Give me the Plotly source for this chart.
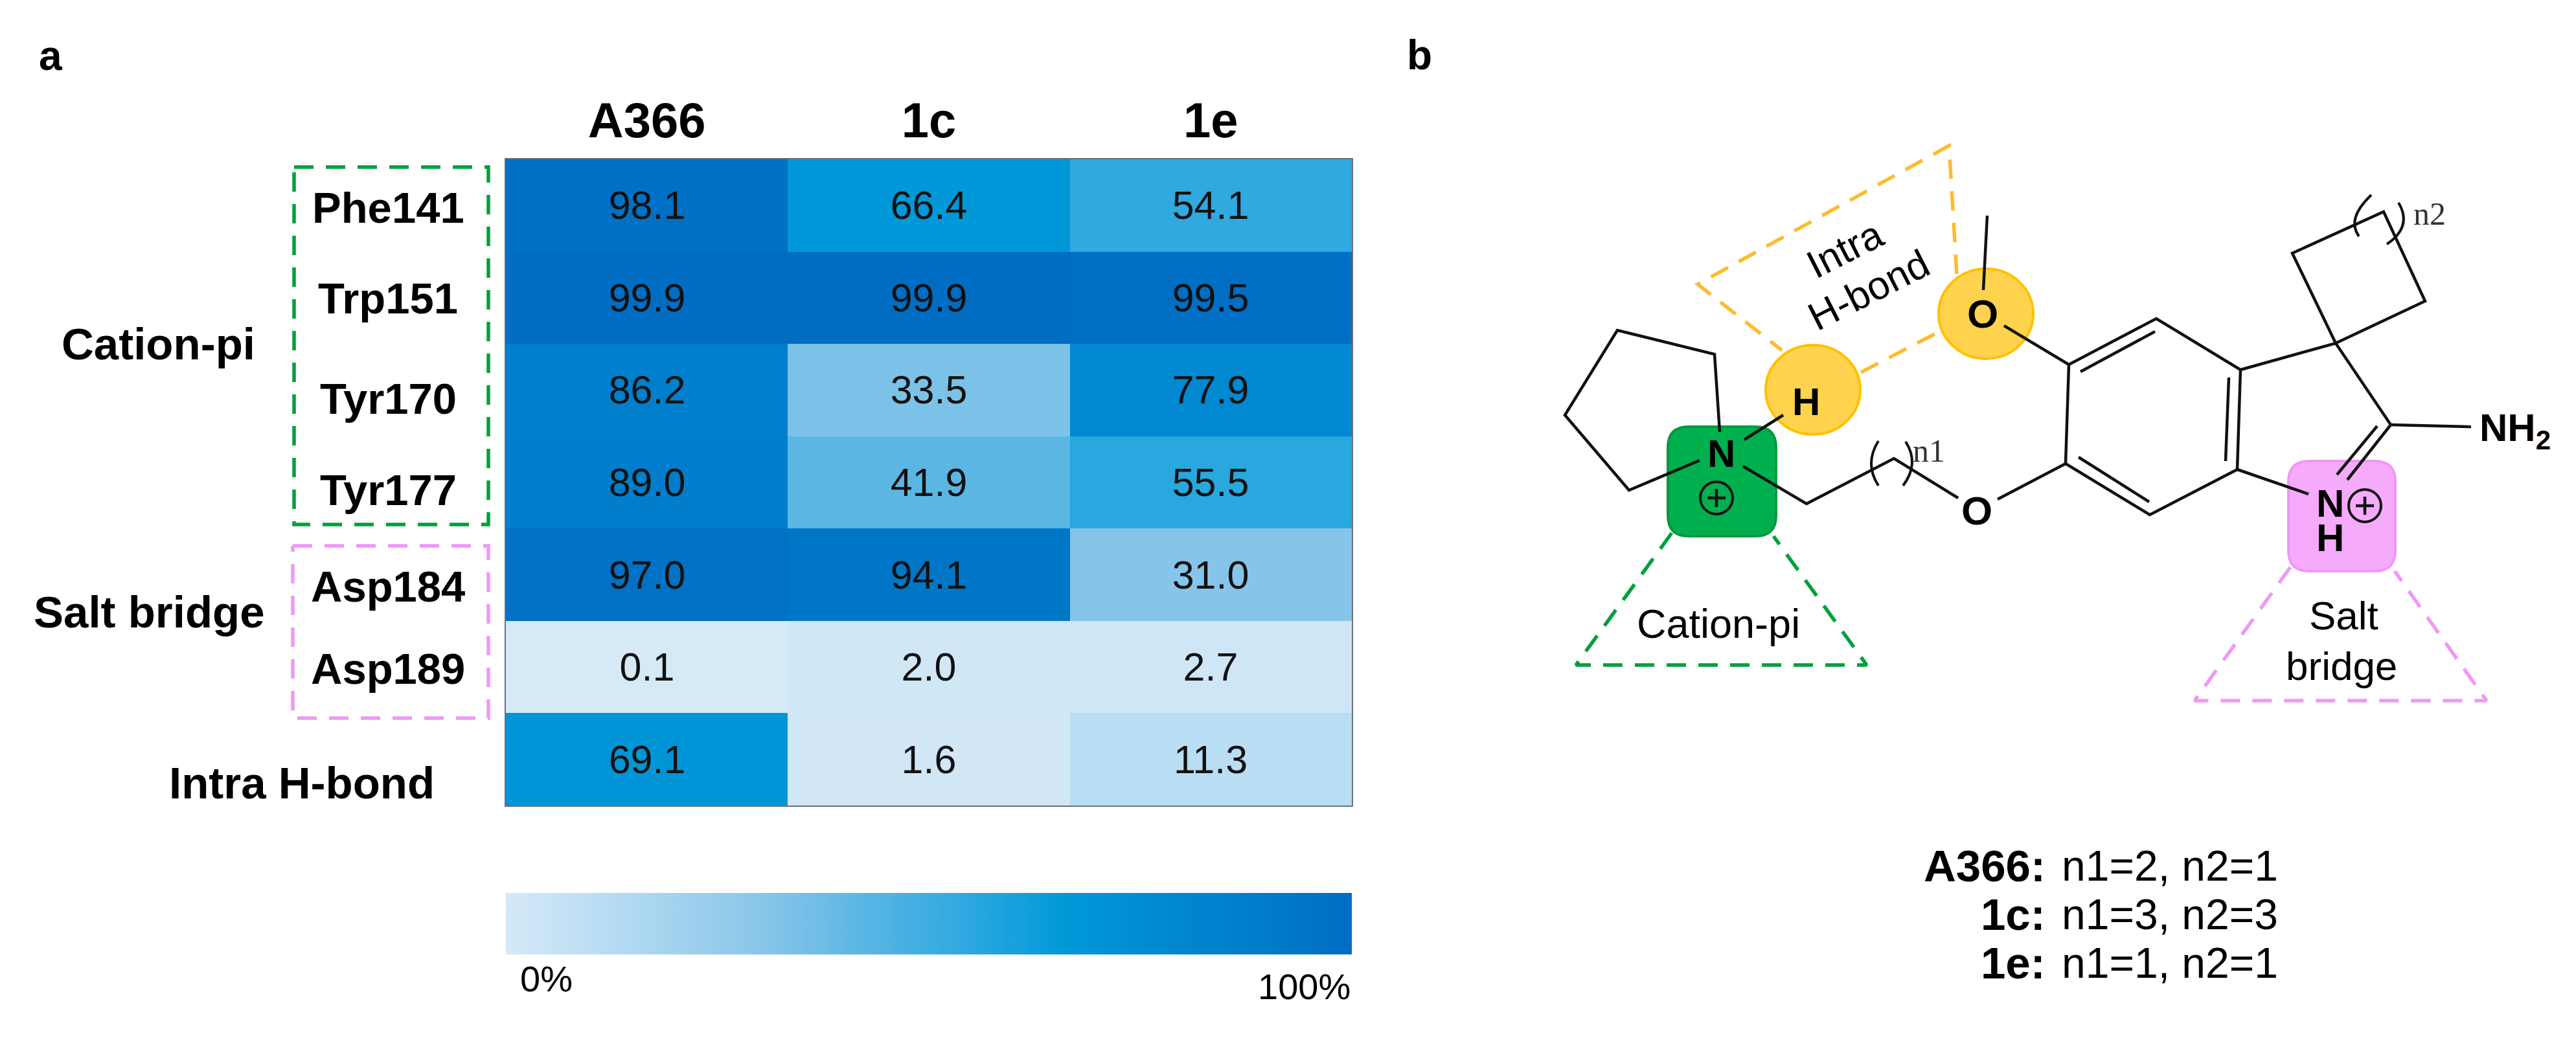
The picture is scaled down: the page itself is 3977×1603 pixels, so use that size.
import plotly.graph_objects as go

# ---------- panel a data ----------
compounds = ["A366", "1c", "1e"]
residues = ["Phe141", "Trp151", "Tyr170", "Tyr177", "Asp184", "Asp189", "Intra H-bond"]
a366_values = [98.1, 99.9, 86.2, 89.0, 97.0, 0.1, 69.1]
c1_values = [66.4, 99.9, 33.5, 41.9, 94.1, 2.0, 1.6]
e1_values = [54.1, 99.5, 77.9, 55.5, 31.0, 2.7, 11.3]
colour_stops = [
    [0.00, "#D5E9F7"], [0.11, "#BADDF3"], [0.31, "#86C5E9"], [0.42, "#5BB6E4"],
    [0.54, "#2FA9E0"], [0.66, "#0099D8"], [0.78, "#0088D0"], [0.89, "#007DCB"],
    [1.00, "#006DC2"],
]
row_labels = residues[:6]
row_label_y = [320, 460, 615, 756, 905, 1032]
group_labels = ["Cation-pi", "Salt bridge", "Intra H-bond"]
group_label_x = [244, 230, 466]
group_label_y = [531, 945, 1209]
formula_names = ["A366:", "1c:", "1e:"]
formula_values = ["n1=2, n2=1", "n1=3, n2=3", "n1=1, n2=1"]
formula_y = [1337, 1412, 1487]

W, H = 3977, 1603
HM_L, HM_R, HM_T, HM_B = 781, 2087, 246, 1244
FONT = "Liberation Sans"

z = [list(r) for r in zip(a366_values, c1_values, e1_values)]
fig = go.Figure()
fig.add_trace(go.Heatmap(
    z=z, x=compounds, y=residues, zmin=0, zmax=100, colorscale=colour_stops,
    text=[[f"{v:.1f}" for v in r] for r in z], texttemplate="%{text}",
    textfont=dict(family=FONT, size=61, color="#111111"), hoverinfo="skip",
    colorbar=dict(orientation="h", x=HM_L / W, xanchor="left", y=1 - 1474 / H, yanchor="bottom",
                  len=HM_R - HM_L, lenmode="pixels", thickness=95, thicknessmode="pixels",
                  outlinewidth=0, borderwidth=0, xpad=0, ypad=0, ticks="", showticklabels=False),
))

# ---------- schematic (pixel-space overlay) ----------
BLACK = "#111111"
bonds = [
    [(2655, 667), (2647, 547), (2497, 510), (2416, 641), (2515, 757), (2624, 711)],
    [(2693, 679), (2753, 641)],
    [(2691, 720), (2789, 778), (2924, 708), (3023, 769)],
    [(3084, 771), (3189, 716)],
    [(3194, 563), (3329, 492), (3459, 571), (3454, 725), (3319, 795), (3189, 716), (3194, 563)],
    [(3212, 574), (3327, 512)], [(3441, 583), (3436, 712)], [(3318, 775), (3209, 706)],
    [(3459, 571), (3606, 530), (3691, 656)],
    [(3454, 725), (3564, 763)],
    [(3691, 656), (3624, 741)], [(3670, 658), (3608, 733)],
    [(3691, 656), (3815, 659)],
    [(3606, 530), (3539, 391), (3680, 327), (3744, 465), (3606, 530)],
    [(3094, 503), (3194, 563)],
    [(3062, 448), (3068, 333)],
    # circled plus signs
    [(2636, 769), (2664, 769)], [(2650, 755), (2650, 783)],
    [(3637, 781), (3665, 781)], [(3651, 767), (3651, 795)],
]
dashed = [
    ("#FBBC2F", [(3021, 423), (3009, 225), (2621, 439), (2751, 541)]),
    ("#FBBC2F", [(2873, 575), (2998, 510)]),
    ("#00A03C", [(2581, 823), (2433, 1027), (2882, 1027), (2738, 828)]),
    ("#EE99F5", [(3536, 876), (3388, 1082), (3839, 1082), (3697, 882)]),
    ("#00A03C", [(454, 258), (754, 258), (754, 810), (454, 810), (454, 258)]),
    ("#EE99F5", [(452, 843), (754, 843), (754, 1109), (452, 1109), (452, 843)]),
]

def split(segs):
    xs, ys = [], []
    for seg in segs:
        xs += [p[0] for p in seg] + [None]
        ys += [p[1] for p in seg] + [None]
    return xs, ys

bx, by = split(bonds)
fig.add_trace(go.Scatter(x=bx, y=by, xaxis="x2", yaxis="y2", mode="lines", hoverinfo="skip",
                         line=dict(color=BLACK, width=4.5), showlegend=False))
for col, seg in dashed:
    dx, dy = split([seg])
    fig.add_trace(go.Scatter(x=dx, y=dy, xaxis="x2", yaxis="y2", mode="lines", hoverinfo="skip",
                             line=dict(color=col, width=5.5, dash="30px,19px"), showlegend=False))

def rrect(x0, y0, x1, y1, r):
    return (f"M{x0+r},{y0} L{x1-r},{y0} Q{x1},{y0} {x1},{y0+r} L{x1},{y1-r} Q{x1},{y1} {x1-r},{y1} "
            f"L{x0+r},{y1} Q{x0},{y1} {x0},{y1-r} L{x0},{y0+r} Q{x0},{y0} {x0+r},{y0} Z")

common = dict(xref="x2", yref="y2")
shapes = [
    dict(type="path", path=rrect(2575, 659, 2742, 828, 32), fillcolor="#00B04F",
         line=dict(color="#009A3E", width=4), layer="below", **common),
    dict(type="path", path=rrect(3533, 712, 3698, 882, 32), fillcolor="#F5AAFC",
         line=dict(color="#EE99F2", width=4), layer="below", **common),
    dict(type="circle", x0=2726, y0=533, x1=2872, y1=671, fillcolor="#FFD34D",
         line=dict(color="#FFC000", width=4), layer="below", **common),
    dict(type="circle", x0=2993, y0=415, x1=3139, y1=554, fillcolor="#FFD34D",
         line=dict(color="#FFC000", width=4), layer="below", **common),
    dict(type="circle", x0=2625, y0=744, x1=2675, y1=794, line=dict(color=BLACK, width=4), **common),
    dict(type="circle", x0=3626, y0=756, x1=3676, y1=806, line=dict(color=BLACK, width=4), **common),
    dict(type="path", path="M2900,681 Q2878,716 2900,750", line=dict(color=BLACK, width=4), **common),
    dict(type="path", path="M2938,750 Q2964,716 2942,682", line=dict(color=BLACK, width=4), **common),
    dict(type="path", path="M3661,301 Q3622,338 3642,365", line=dict(color=BLACK, width=4), **common),
    dict(type="path", path="M3685,377 Q3725,350 3703,313", line=dict(color=BLACK, width=4), **common),
]

def label(text, x, y, size, bold=False, anchor="center", angle=0, family=FONT, color="#000000"):
    return dict(text=f"<b>{text}</b>" if bold else text, x=x, y=y, xref="x2", yref="y2",
                showarrow=False, xanchor=anchor, yanchor="middle", textangle=angle,
                font=dict(family=family, size=size, color=color))

ann = [label("a", 78, 86, 64, True), label("b", 2191, 85, 64, True)]
ann += [label(t, 599, y, 67, True) for t, y in zip(row_labels, row_label_y)]
ann += [label(t, x, y, 69, True) for t, x, y in zip(group_labels, group_label_x, group_label_y)]
ann += [label("0%", 843, 1511, 56), label("100%", 2087, 1523, 56, anchor="right")]
ann += [
    label("H", 2788, 620, 60, True), label("N", 2657, 700, 60, True),
    label("O", 3061, 484, 62, True), label("O", 3052, 788, 62, True),
    label("N", 3597, 777, 60, True), label("H", 3597, 830, 60, True),
    label("NH<sub>2</sub>", 3883, 665, 60, True),
    label("n1", 2978, 696, 50, family="Liberation Serif", color="#333333"),
    label("n2", 3751, 330, 50, family="Liberation Serif", color="#333333"),
    label("Cation-pi", 2653, 963, 63),
    label("Salt", 3618, 950, 62), label("bridge", 3615, 1028, 62),
    label("Intra", 2848, 385, 61, angle=-27), label("H-bond", 2885, 448, 61, angle=-27),
]
ann += [label(t, 3160, y, 69, True, anchor="right") for t, y in zip(formula_names, formula_y)]
ann += [label(t, 3181, y, 66, anchor="left") for t, y in zip(formula_values, formula_y)]

fig.update_layout(
    width=W, height=H, margin=dict(l=0, r=0, t=0, b=0, autoexpand=False),
    paper_bgcolor="white", plot_bgcolor="rgba(0,0,0,0)", showlegend=False,
    shapes=shapes, annotations=ann,
    xaxis=dict(domain=[HM_L / W, HM_R / W], side="top", ticks="", ticklabelstandoff=2,
               tickfont=dict(family=FONT, size=76, color="#000000"),
               tickvals=compounds, ticktext=[f"<b>{c}</b>" for c in compounds],
               showline=True, mirror=True, linecolor="#66727E", linewidth=2, showgrid=False, zeroline=False),
    yaxis=dict(domain=[1 - HM_B / H, 1 - HM_T / H], autorange="reversed", showticklabels=False, ticks="",
               showline=True, mirror=True, linecolor="#66727E", linewidth=2, showgrid=False, zeroline=False),
    xaxis2=dict(domain=[0, 1], range=[0, W], anchor="y2", visible=False, fixedrange=True),
    yaxis2=dict(domain=[0, 1], range=[H, 0], anchor="x2", visible=False, fixedrange=True),
)
fig.write_html("out.html", config={"displayModeBar": False},
               post_script="document.body.style.margin='0';")
